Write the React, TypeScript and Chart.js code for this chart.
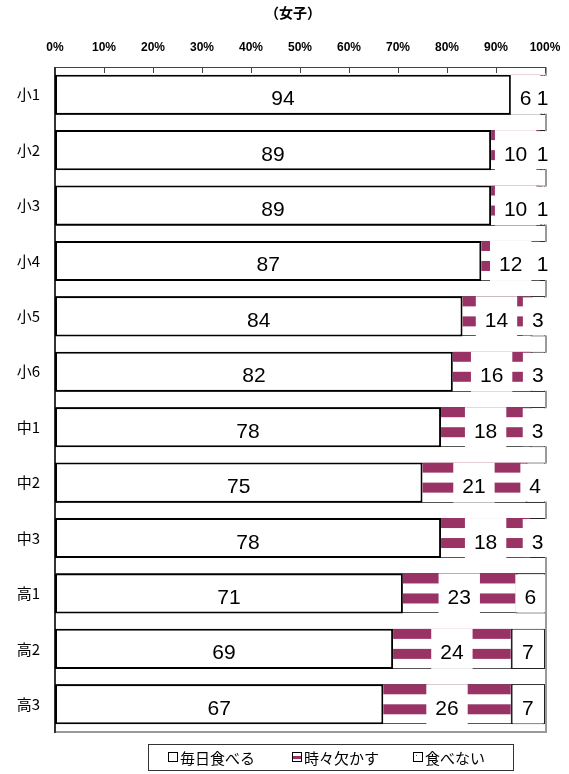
import React, { useEffect, useRef } from 'react';
import { Chart, registerables } from 'chart.js';

Chart.register(...registerables);

const title = '（女子）';
const categories = ['小1', '小2', '小3', '小4', '小5', '小6', '中1', '中2', '中3', '高1', '高2', '高3'];
const everyDay = [94, 89, 89, 87, 84, 82, 78, 75, 78, 71, 69, 67];
const sometimes = [6, 10, 10, 12, 14, 16, 18, 21, 18, 23, 24, 26];
const never = [1, 1, 1, 1, 3, 3, 3, 4, 3, 6, 7, 7];
const seriesNames = ['毎日食べる', '時々欠かす', '食べない'];
const xTickValues = [0, 10, 20, 30, 40, 50, 60, 70, 80, 90, 100];

const rawSeries = [everyDay, sometimes, never];
const totals = categories.map((_, i) => everyDay[i] + sometimes[i] + never[i]);
const percentSeries = rawSeries.map((s) => s.map((v, i) => (v / totals[i]) * 100));

const MAROON = '#993366';
const LABEL_FONT = '21px "Liberation Sans", Arial, sans-serif';
const JP_FONT = '"Noto Sans CJK JP", sans-serif';

const framePlugin = {
  id: 'frame',
  beforeDatasetsDraw(chart: any) {
    const { ctx, chartArea: a, scales } = chart;
    const xs = scales.x;
    const x0 = xs.getPixelForValue(0);
    const x100 = xs.getPixelForValue(100);
    ctx.save();
    ctx.strokeStyle = '#555';
    ctx.lineWidth = 1;
    chart.getDatasetMeta(0).data.forEach((el: any) => {
      const p = el.getProps(['y', 'height'], true);
      const t = p.y - p.height / 2;
      const b = p.y + p.height / 2;
      ctx.beginPath();
      ctx.moveTo(x0, Math.round(t) + 0.5);
      ctx.lineTo(x100, Math.round(t) + 0.5);
      ctx.moveTo(x0, Math.round(b) - 0.5);
      ctx.lineTo(x100, Math.round(b) - 0.5);
      ctx.stroke();
    });
    ctx.strokeStyle = '#999';
    ctx.lineWidth = 2;
    ctx.beginPath();
    ctx.moveTo(a.right + 1, a.top);
    ctx.lineTo(a.right + 1, a.bottom + 1);
    ctx.stroke();
    ctx.beginPath();
    ctx.moveTo(a.left, a.bottom);
    ctx.lineTo(a.right + 2, a.bottom);
    ctx.stroke();
    ctx.strokeStyle = '#444';
    ctx.lineWidth = 1;
    ctx.beginPath();
    ctx.moveTo(a.left, Math.round(a.top) + 0.5);
    ctx.lineTo(a.right + 1, Math.round(a.top) + 0.5);
    xTickValues.forEach((v) => {
      const x = Math.round(xs.getPixelForValue(v)) + 0.5;
      ctx.moveTo(x, a.top);
      ctx.lineTo(x, a.top + 6);
    });
    ctx.stroke();
    ctx.strokeStyle = '#333';
    ctx.lineWidth = 2;
    ctx.beginPath();
    ctx.moveTo(a.left, a.top);
    ctx.lineTo(a.left, a.bottom + 1);
    ctx.stroke();
    ctx.restore();
  },
  afterDatasetsDraw(chart: any) {
    const { ctx } = chart;
    ctx.save();
    ctx.fillStyle = MAROON;
    chart.getDatasetMeta(1).data.forEach((el: any) => {
      const p = el.getProps(['x', 'y', 'base', 'height'], true);
      const l = Math.min(p.x, p.base);
      const r = Math.max(p.x, p.base);
      const t = p.y - p.height / 2;
      const h = p.height;
      ctx.fillRect(l, t, r - l, h * 0.25);
      ctx.fillRect(l, t + h * 0.5, r - l, h * 0.25);
    });
    ctx.font = LABEL_FONT;
    const items: any[] = [];
    [0, 1, 2].forEach((di) => {
      chart.getDatasetMeta(di).data.forEach((el: any, i: number) => {
        const p = el.getProps(['x', 'y', 'base', 'height'], true);
        const text = String(rawSeries[di][i]);
        const cx = (p.x + p.base) / 2;
        items.push({ di, text, cx, y: p.y, h: p.height });
      });
    });
    ctx.fillStyle = '#fff';
    items.forEach((it) => {
      if (it.di === 0) return;
      const w = ctx.measureText(it.text).width + 18;
      const t = it.y - it.h / 2;
      if (it.di === 1) ctx.fillRect(it.cx - w / 2, t, w, it.h);
      else ctx.fillRect(it.cx - w / 2, t + 1, w, it.h - 2);
    });
    ctx.fillStyle = '#000';
    ctx.textAlign = 'center';
    ctx.textBaseline = 'alphabetic';
    items.forEach((it) => {
      ctx.fillText(it.text, it.cx, it.y + 10.5);
    });
    ctx.restore();
  },
  afterDraw(chart: any) {
    const { ctx } = chart;
    ctx.save();
    ctx.fillStyle = '#000';
    ctx.font = 'bold 14px ' + JP_FONT;
    ctx.textAlign = 'center';
    ctx.textBaseline = 'middle';
    ctx.fillText(title, 293, 13);
    ctx.strokeStyle = '#333';
    ctx.lineWidth = 1;
    ctx.strokeRect(148.5, 744.5, 365, 26);
    const xs = [168, 292, 413];
    const cy = 757;
    ctx.font = '15px ' + JP_FONT;
    ctx.textAlign = 'left';
    seriesNames.forEach((name, k) => {
      const x = xs[k];
      const s = 10;
      const top = cy - s / 2;
      ctx.fillStyle = '#fff';
      ctx.fillRect(x, top, s, s);
      if (k === 1) {
        ctx.fillStyle = MAROON;
        ctx.fillRect(x + 1, top + 4, s - 2, 3);
      }
      if (k === 2) {
        ctx.fillStyle = '#555';
        ctx.fillRect(x + 3, top + 3, 1, 1);
      }
      ctx.strokeStyle = '#000';
      ctx.strokeRect(x + 0.5, top + 0.5, s - 1, s - 1);
      ctx.fillStyle = '#000';
      ctx.textBaseline = 'middle';
      ctx.fillText(name, x + 12, cy + 1);
    });
    ctx.restore();
  },
};

export default function App() {
  const ref = useRef<HTMLCanvasElement | null>(null);
  useEffect(() => {
    if (!ref.current) return;
    const chart = new Chart(ref.current, {
      type: 'bar',
      data: {
        labels: categories,
        datasets: [
          {
            label: seriesNames[0],
            data: percentSeries[0],
            backgroundColor: '#ffffff',
            borderColor: '#000000',
            borderWidth: 2,
            borderSkipped: false,
          },
          {
            label: seriesNames[1],
            data: percentSeries[1],
            backgroundColor: 'rgba(0,0,0,0)',
            borderWidth: 0,
          },
          {
            label: seriesNames[2],
            data: percentSeries[2],
            backgroundColor: '#ffffff',
            borderColor: '#222222',
            borderWidth: { left: 2, top: 1, right: 1, bottom: 1 },
            borderSkipped: false,
          },
        ],
      },
      options: {
        indexAxis: 'y',
        animation: false,
        responsive: false,
        devicePixelRatio: 1,
        layout: { padding: { top: 0, left: 0, right: 24, bottom: 42 } },
        datasets: { bar: { barPercentage: 0.722, categoryPercentage: 1 } },
        plugins: {
          legend: { display: false },
          tooltip: { enabled: false },
          title: { display: false },
        },
        scales: {
          x: {
            position: 'top',
            stacked: true,
            min: 0,
            max: 100,
            afterFit: (s: any) => {
              s.height = 67;
              s.paddingLeft = 0;
              s.paddingRight = 0;
            },
            afterBuildTicks: (s: any) => {
              s.ticks = xTickValues.map((v) => ({ value: v }));
            },
            ticks: {
              callback: (v: any) => v + '%',
              font: { family: '"Liberation Sans", Arial, sans-serif', size: 12, weight: 'bold' },
              color: '#000',
              padding: 12,
              maxRotation: 0,
              autoSkip: false,
            },
            grid: { display: false, drawTicks: false },
            border: { display: false },
          },
          y: {
            stacked: true,
            afterFit: (s: any) => {
              s.width = 55;
            },
            ticks: {
              font: { family: '"Noto Sans CJK JP", sans-serif', size: 15 },
              color: '#000',
              padding: 15,
            },
            grid: { display: false, drawTicks: false },
            border: { display: false },
          },
        },
      },
      plugins: [framePlugin],
    });
    return () => chart.destroy();
  }, []);
  return (
    <div style={{ position: 'absolute', left: 0, top: 0, width: 569, height: 774, background: '#fff' }}>
      <canvas ref={ref} width={569} height={774} style={{ display: 'block' }} />
    </div>
  );
}
